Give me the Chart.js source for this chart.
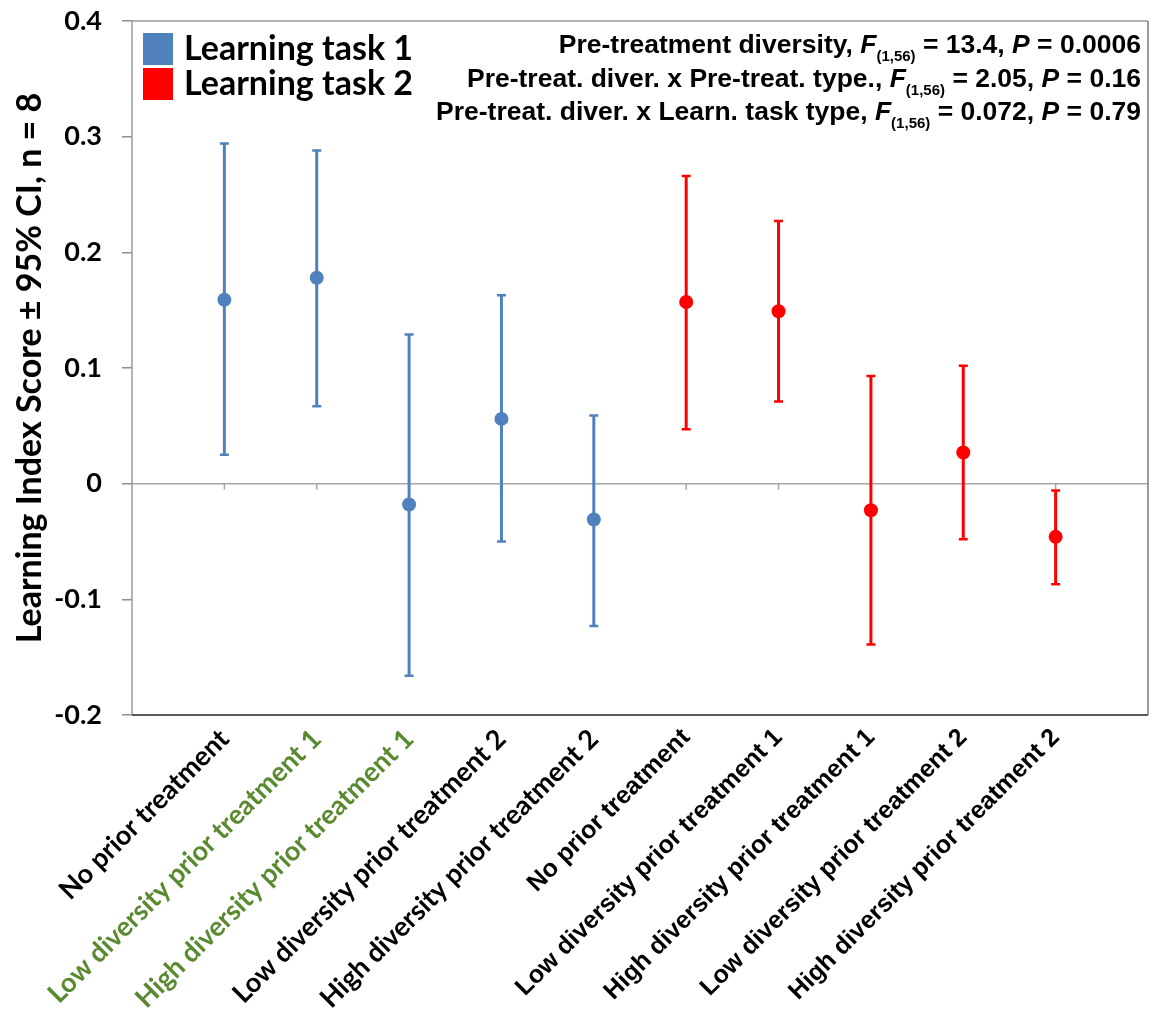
<!DOCTYPE html>
<html>
<head>
<meta charset="utf-8">
<script src="https://cdn.jsdelivr.net/npm/chart.js@4.4.0/dist/chart.umd.min.js"></script>
<style>
  html, body { margin: 0; padding: 0; background: #fff; }
  #wrap { width: 1155px; height: 1025px; position: relative; }
</style>
</head>
<body>
<div id="wrap"><canvas id="chart"></canvas></div>
<script>
// x categories (task 1 block, then task 2 block)
const categories = [
    'No prior treatment',
    'Low diversity prior treatment 1',
    'High diversity prior treatment 1',
    'Low diversity prior treatment 2',
    'High diversity prior treatment 2',
    'No prior treatment',
    'Low diversity prior treatment 1',
    'High diversity prior treatment 1',
    'Low diversity prior treatment 2',
    'High diversity prior treatment 2'
];

// Learning task 1: mean and 95% CI
const task1Mean  = [0.159, 0.178, -0.018, 0.056, -0.031];
const task1Upper = [0.294, 0.288, 0.129, 0.163, 0.059];
const task1Lower = [0.025, 0.067, -0.166, -0.050, -0.123];

// Learning task 2: mean and 95% CI
const task2Mean  = [0.157, 0.149, -0.023, 0.027, -0.046];
const task2Upper = [0.266, 0.227, 0.093, 0.102, -0.006];
const task2Lower = [0.047, 0.071, -0.139, -0.048, -0.087];

// y axis ticks
const yTickValues = [-0.2, -0.1, 0, 0.1, 0.2, 0.3, 0.4];
const yTickLabels = ['-0.2', '-0.1', '0', '0.1', '0.2', '0.3', '0.4'];

const seriesNames = ['Learning task 1', 'Learning task 2'];

// statistics box, top right
const statLines = [
    [['Pre-treatment diversity, ', 'n'], ['F', 'i'], ['(1,56)', 's'], [' = 13.4, ', 'n'], ['P', 'i'], [' = 0.0006', 'n']],
    [['Pre-treat. diver. x Pre-treat. type., ', 'n'], ['F', 'i'], ['(1,56)', 's'], [' = 2.05, ', 'n'], ['P', 'i'], [' = 0.16', 'n']],
    [['Pre-treat. diver. x Learn. task type, ', 'n'], ['F', 'i'], ['(1,56)', 's'], [' = 0.072, ', 'n'], ['P', 'i'], [' = 0.79', 'n']]
];

const BLUE = '#4f81bd';
const RED = '#ff0000';
const GREEN = '#5a8a30';
const greenLabels = [1, 2];

// empty slot at each end so the points sit one step in from the frame
const labels = [''].concat(categories, ['']);
const pad5 = [null, null, null, null, null];
function block1(arr) { return [null].concat(arr, pad5, [null]); }
function block2(arr) { return [null].concat(pad5, arr, [null]); }

// 誤差線
const errorBars = {
    id: 'errorBars',
    beforeDatasetsDraw(chart) {
        const { ctx, chartArea, scales: { x, y } } = chart;

        // frame
        ctx.save();
        ctx.lineWidth = 1.5;
        ctx.strokeStyle = '#9a9a9a';
        ctx.beginPath();
        ctx.moveTo(chartArea.left, chartArea.bottom);
        ctx.lineTo(chartArea.left, chartArea.top);
        ctx.lineTo(chartArea.right, chartArea.top);
        ctx.stroke();
        ctx.strokeStyle = '#7a7a7a';
        ctx.beginPath();
        ctx.moveTo(chartArea.right, chartArea.top);
        ctx.lineTo(chartArea.right, chartArea.bottom);
        ctx.stroke();
        ctx.lineWidth = 2;
        ctx.strokeStyle = '#595959';
        ctx.beginPath();
        ctx.moveTo(chartArea.left, chartArea.bottom);
        ctx.lineTo(chartArea.right, chartArea.bottom);
        ctx.stroke();

        // tick marks on the zero line
        const y0 = y.getPixelForValue(0);
        ctx.lineWidth = 1.5;
        ctx.strokeStyle = '#a6a6a6';
        for (let i = 1; i <= categories.length; i++) {
            const px = x.getPixelForValue(i);
            ctx.beginPath();
            ctx.moveTo(px, y0);
            ctx.lineTo(px, y0 + 6);
            ctx.stroke();
        }

        chart.data.datasets.forEach(ds => {
            ctx.strokeStyle = ds.borderColor;
            ds.data.forEach((v, i) => {
                if (v == null) return;
                const px = x.getPixelForValue(i);
                const yl = y.getPixelForValue(ds.errLow[i]);
                const yh = y.getPixelForValue(ds.errHigh[i]);
                ctx.lineWidth = 3;
                ctx.beginPath();
                ctx.moveTo(px, yl);
                ctx.lineTo(px, yh);
                ctx.stroke();
                ctx.lineWidth = 2.5;
                ctx.beginPath();
                ctx.moveTo(px - 4.5, yl);
                ctx.lineTo(px + 4.5, yl);
                ctx.moveTo(px - 4.5, yh);
                ctx.lineTo(px + 4.5, yh);
                ctx.stroke();
            });
        });
        ctx.restore();
    }
};

// 圖例與統計文字
const overlays = {
    id: 'overlays',
    afterDraw(chart) {
        const { ctx, chartArea } = chart;
        ctx.save();

        // legend
        const colors = [BLUE, RED];
        ctx.font = 'bold 34px Lato';
        ctx.textBaseline = 'middle';
        ctx.textAlign = 'left';
        seriesNames.forEach((name, i) => {
            const top = chartArea.top + 12 + i * 35;
            ctx.fillStyle = colors[i];
            ctx.fillRect(chartArea.left + 11, top, 30, 32);
            ctx.fillStyle = '#000';
            ctx.fillText(name, chartArea.left + 52, top + 16);
        });

        // statistics
        const fam = '"Liberation Sans Narrow", "Liberation Sans", Arial, sans-serif';
        const fonts = {
            n: 'bold 26.5px ' + fam,
            i: 'italic bold 26.5px ' + fam,
            s: 'bold 15px ' + fam
        };
        ctx.textBaseline = 'alphabetic';
        const right = chartArea.right - 7;
        statLines.forEach((line, li) => {
            const base = chartArea.top + 32 + li * 33.5;
            let total = 0;
            line.forEach(([t, k]) => { ctx.font = fonts[k]; total += ctx.measureText(t).width; });
            let cx = right - total;
            line.forEach(([t, k]) => {
                ctx.font = fonts[k];
                ctx.fillText(t, cx, k === 's' ? base + 8 : base);
                cx += ctx.measureText(t).width;
            });
        });
        ctx.restore();
    }
};

new Chart(document.getElementById('chart'), {
    type: 'line',
    data: {
        labels: labels,
        datasets: [
            {
                label: seriesNames[0],
                data: block1(task1Mean),
                errLow: block1(task1Lower),
                errHigh: block1(task1Upper),
                showLine: false,
                pointRadius: 7,
                pointHoverRadius: 7,
                pointBorderWidth: 0,
                backgroundColor: BLUE,
                borderColor: BLUE
            },
            {
                label: seriesNames[1],
                data: block2(task2Mean),
                errLow: block2(task2Lower),
                errHigh: block2(task2Upper),
                showLine: false,
                pointRadius: 7,
                pointHoverRadius: 7,
                pointBorderWidth: 0,
                backgroundColor: RED,
                borderColor: RED
            }
        ]
    },
    options: {
        responsive: true,
        maintainAspectRatio: false,
        animation: false,
        layout: { padding: { top: 21, right: 4, left: 0, bottom: 0 } },
        plugins: {
            legend: { display: false },
            tooltip: { enabled: false }
        },
        scales: {
            x: {
                type: 'category',
                offset: false,
                afterFit(s) {
                    s.height = 310;
                    s.paddingLeft = 0;
                    s.paddingRight = 0;
                },
                grid: { display: false, drawTicks: false },
                border: { display: false },
                ticks: {
                    autoSkip: false,
                    minRotation: 45,
                    maxRotation: 45,
                    padding: 8,
                    color: c => greenLabels.includes(c.index - 1) ? GREEN : '#000',
                    font: c => (c.index <= 5)
                        ? { family: 'Lato', weight: 'bold', size: 27 }
                        : { family: '"Liberation Sans", Arial, sans-serif', weight: 'bold', size: 25 }
                }
            },
            y: {
                min: -0.2,
                max: 0.4,
                afterFit(s) {
                    s.width = 132;
                    s.paddingTop = 0;
                    s.paddingBottom = 0;
                },
                afterBuildTicks(s) { s.ticks = yTickValues.map(v => ({ value: v })); },
                grid: {
                    color: c => (c.tick && Math.abs(c.tick.value) < 1e-9) ? '#a6a6a6' : 'rgba(0,0,0,0)',
                    tickColor: '#8c8c8c',
                    tickLength: 10,
                    lineWidth: 1.5
                },
                border: { display: false },
                ticks: {
                    callback: (v, i) => yTickLabels[i],
                    color: '#000',
                    padding: 20,
                    font: { family: 'Lato', weight: 'bold', size: 27 }
                },
                title: {
                    display: true,
                    text: 'Learning Index Score ± 95% CI, n = 8',
                    color: '#000',
                    font: { family: 'Lato', weight: 'bold', size: 34 },
                    padding: { top: 10, bottom: 0 }
                }
            }
        }
    },
    plugins: [errorBars, overlays]
});
</script>
</body>
</html>
